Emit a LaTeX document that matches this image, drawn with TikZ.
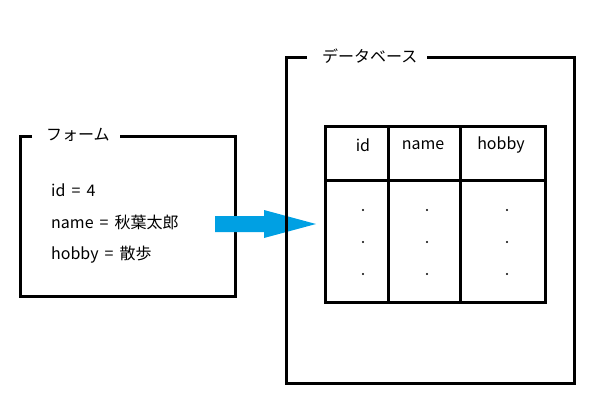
\documentclass[tikz,border=0pt]{standalone}
\usepackage{fontspec}
\setmainfont[WordSpace=1.7]{Noto Sans CJK JP}
\usetikzlibrary{positioning}
\definecolor{arrowblue}{RGB}{0,160,227}
\tikzset{
  frame/.style={line width=3pt},
  lbl/.style={font=\fontsize{16}{18}\selectfont, inner sep=0pt},
  dot/.style={circle, fill=black, inner sep=0pt, minimum size=2.4pt}
}

\begin{document}
\begin{tikzpicture}[x=1pt, y=-1pt]
      \useasboundingbox (0,0) rectangle (594,420);
      % form
      \draw[frame] (32,136) -- (20,136) -- (20,296) -- (235,296) -- (235,136) -- (120,136);
      \node[lbl, anchor=west] (formtitle) at (46,135) {フォーム};
      \node[lbl, anchor=west] (fid) at (51,190) {id = 4};
      \node[lbl, anchor=west] (fname) at (51,222) {name = 秋葉太郎};
      \node[lbl, anchor=west] (fhobby) at (51,255) {hobby = 散歩};
      % arrow
      \fill[arrowblue] (215,216) -- (264,216) -- (264,210) -- (316,224) -- (264,238) -- (264,232) -- (215,232) -- cycle;
      % database
      \draw[frame] (307,58) -- (286,58) -- (286,383) -- (574,383) -- (574,58) -- (427,58);
      \node[lbl, anchor=west] (dbtitle) at (322,56) {データベース};
      \draw[frame] (325,126) rectangle (545,302);
      \draw[frame] (325,180) -- (545,180);
      \draw[frame] (388,126) -- (388,302);
      \draw[frame] (460,126) -- (460,302);
      \node[lbl] (hid) at (363,145) {id};
      \node[lbl] (hname) at (423,145) {name};
      \node[lbl] (hhobby) at (501,145) {hobby};
      \foreach \x/\c in {363/a,427/b,507/c}
        \foreach \y/\r in {210/1,242/2,274/3}
          \node[dot] (d\c\r) at (\x,\y) {};
    \end{tikzpicture}
\end{document}
